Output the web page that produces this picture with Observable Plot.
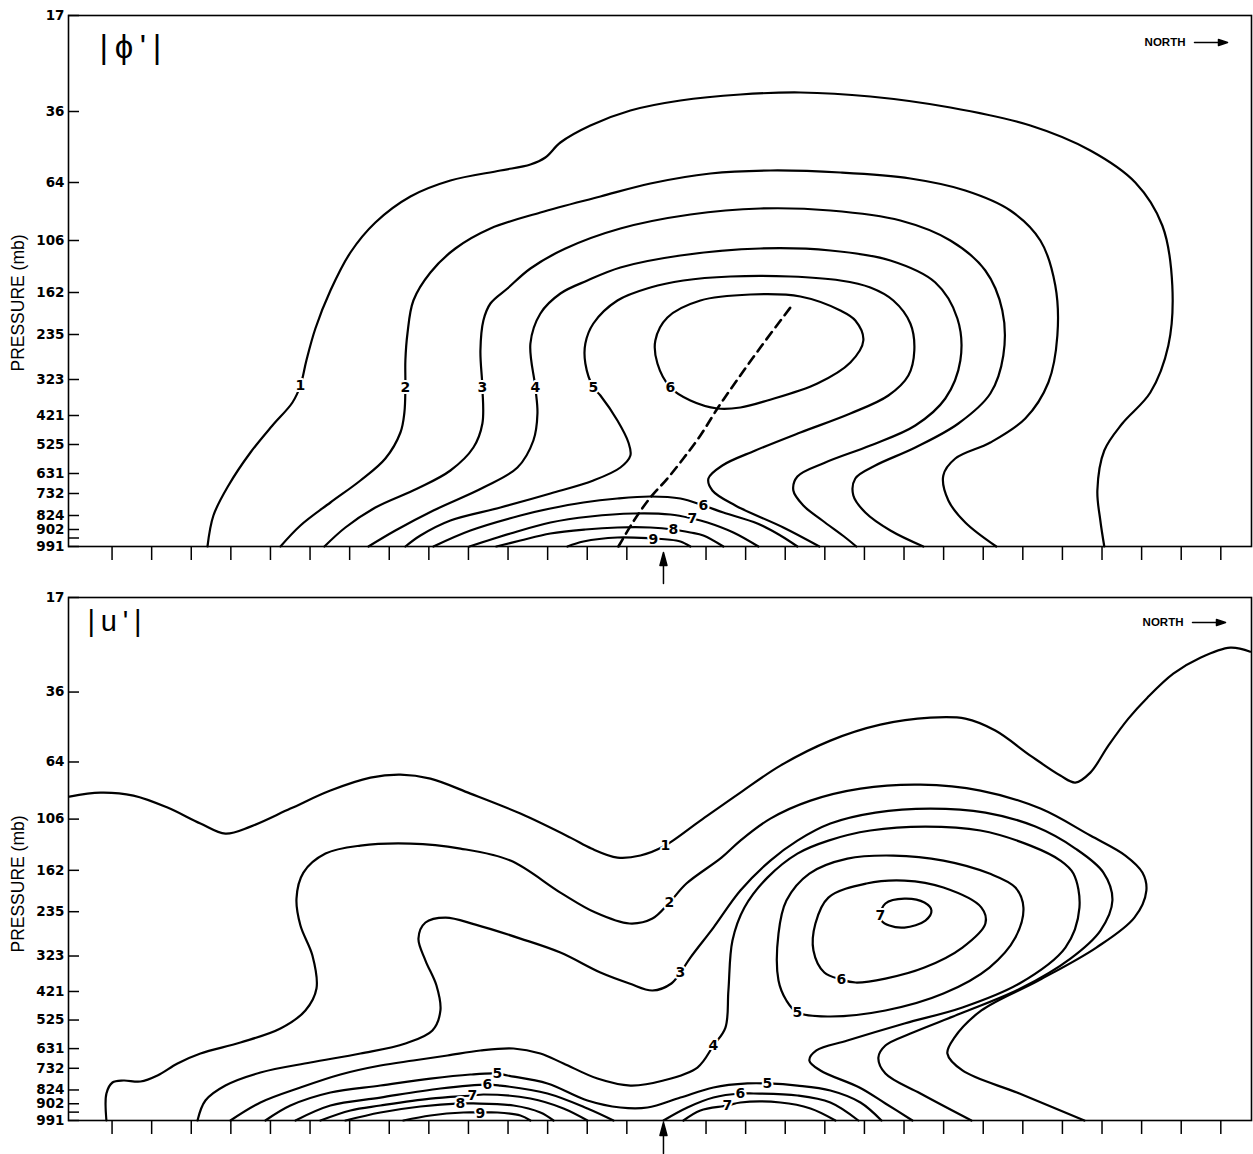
<!DOCTYPE html>
<html>
<head>
<meta charset="utf-8">
<script src="https://cdn.jsdelivr.net/npm/d3@7"></script>
<script src="https://cdn.jsdelivr.net/npm/@observablehq/plot@0.6"></script>
<style>
  body { margin: 0; background: #fff; }
  svg { display: block; }
</style>
</head>
<body>
<div id="chart"></div>
<script>
// ---------------- DATA ----------------
// vertical axis: pressure labels and the height coordinate of each model level
const pressureLabels = [17, 36, 64, 106, 162, 235, 323, 421, 525, 631, 732, 824, 902, 991];
const levelHeights   = [531, 435, 364, 306, 254, 212, 167, 131, 102, 73, 53, 31, 17, 0];
const extraLevelHeights = [8.5];            // unlabeled level tick
// horizontal axis: grid points (distance units), marker at the disturbance centre
const gridTicks = [40, 80, 120, 160, 200, 240, 280, 320, 360, 400, 440, 480, 520, 560,
                   640, 680, 720, 760, 800, 840, 880, 920, 960, 1000, 1040, 1080, 1120, 1160];
const markerPosition = 597;

// ---- |phi'| contours: [distance, height]
const phi1 = [[136.4,0],[142.4,31],[157.6,61],[179.8,94],[202,121],[222.2,144],[230.3,161],[236.3,186],[245.4,218],[260.6,256],[280.8,294],[306,324],[341.4,350],[381.8,366],[432.3,376],[462.6,382],[477.7,389],[492.9,404],[523.2,421],[563.6,436],[614.1,446],[674.7,452],[735.3,454],[806,450],[886.8,439],[967.6,421],[1028.2,396],[1073.6,364],[1100.9,321],[1111,261],[1107,201],[1088.8,154],[1060.5,123],[1042.3,96],[1035.3,56],[1038.3,26],[1042.3,0]];
const phi2 = [[210.1,0],[230.3,21],[260.6,44],[290.9,66],[316.1,88],[331.3,114],[335.3,134],[336.3,159],[336.3,186],[338.4,213],[344.4,246],[361.6,274],[386.8,298],[422.2,318],[472.7,334],[533.3,350],[583.8,363],[644.4,373],[705,376],[775.7,374],[846.4,368],[901.9,356],[947.4,336],[977.7,306],[992.8,261],[994.9,211],[985.8,164],[962.5,128],[927.2,104],[891.8,88],[879.7,71],[884.8,46],[901.9,24],[933.2,0]];
const phi3 = [[254.5,0],[275.7,19],[306,39],[348.5,58],[381.8,76],[405,99],[414.1,123],[414.1,159],[412.1,196],[415.1,226],[422.2,243],[439.4,258],[462.6,278],[498,298],[553.5,318],[624.2,332],[694.9,338],[765.6,336],[836.3,326],[886.8,306],[922.1,276],[939.3,236],[940.3,191],[927.2,153],[894.9,123],[851.4,99],[811,81],[790.8,68],[788.8,51],[800.9,34],[826.2,16],[859.5,0]];
const phi4 = [[299,0],[326.2,16],[364.6,36],[415.1,59],[449.5,79],[465.6,106],[469.7,133],[467.6,159],[462.6,203],[472.7,233],[492.9,253],[520.2,266],[553.5,279],[614.1,291],[694.9,298],[765.6,296],[826.2,286],[871.6,264],[893.9,228],[896.9,186],[881.7,148],[851.4,121],[806,101],[760.5,84],[732.3,70],[728.2,56],[738.3,41],[757.5,26],[780.7,9],[791.8,0]];
const phi5 = [[336.3,0],[351.5,11],[381.8,26],[432.3,39],[482.8,53],[526.2,66],[553.5,79],[563.6,91],[561.6,104],[550.5,126],[533.3,151],[526.2,159],[518.1,183],[518.1,203],[526.2,223],[550.5,246],[583.8,259],[617.1,266],[664.6,270],[725.2,270],[775.7,266],[806,259],[829.2,246],[846.4,223],[850.4,196],[844.4,171],[824.2,151],[785.8,133],[735.3,114],[689.8,96],[656.5,81],[642.4,68],[646.4,56],[669.6,41],[718.1,19],[754.5,0]];
const phi6Upper = [[604,159],[624.2,146],[651.5,138],[674.7,139],[702,146],[752.5,163],[785.8,184],[798.9,206],[790.8,226],[775.7,236],[735.3,250],[684.8,252],[634.3,246],[601,229],[588.8,206],[590.9,183]];
const phi6Lower = [[364.6,0],[402,16],[452.5,31],[482.8,38],[516.1,44],[550.5,48],[583.8,50],[614.1,48],[637.3,41],[657.5,34],[691.9,23],[715.1,11],[732.3,0]];
const phi7 = [[401,0],[442.4,13],[482.8,24],[523.2,30],[566.6,33],[604,32],[626.2,28],[641.4,24],[667.6,14],[692.9,0]];
const phi8 = [[428.2,0],[452.5,6],[482.8,13],[518.1,17],[550.5,19],[583.8,19],[607,17],[624.2,14],[637.3,11],[657.5,0]];
const phi9 = [[500,0],[516.1,5],[550.5,9],[586.8,8],[601,7],[614.1,5],[624.2,0]];
const phiTroughAxis = [[551.5,0],[566.6,25],[583.8,49],[601,68],[617.1,88],[634.3,111],[651.5,138],[669.6,164],[694.9,199],[725.2,239]];
const phiLabels = [[230.3,161,"1"],[336.3,159,"2"],[414.1,159,"3"],[467.6,159,"4"],[526.2,159,"5"],[604,159,"6"],[637.3,41,"6"],[626.2,28,"7"],[607,17,"8"],[586.8,7,"9"]];

// ---- |u'| contours: [distance, height]
const u1 = [[-3,328.9],[28.3,332.9],[61.6,329.9],[96,317.7],[129.3,301.5],[154.5,291.3],[179.8,298.4],[220.2,316.7],[260.6,335],[301,348.1],[331.3,351.2],[361.6,347.1],[402,331.9],[452.5,311.6],[503,287.2],[524.2,276.1],[550.5,266.9],[573.7,269],[597,278.1],[634.3,304.5],[674.7,332.9],[715.1,360.3],[765.6,385.7],[816.1,401.9],[866.6,409],[901.9,408],[932.2,395.9],[967.6,370.5],[997.9,350.2],[1013,343.1],[1028.2,353.2],[1046.4,380.6],[1066.6,408],[1085.8,429.3],[1112,453.7],[1139.3,469.9],[1169.6,480.1],[1189.8,476]];
const u2 = [[34.3,0],[34.3,27.4],[40.4,38.6],[51.5,40.6],[68.7,39.6],[85.9,45.7],[106.1,57.9],[129.3,68],[169.7,79.2],[210.1,93.4],[235.3,111.7],[246.5,134],[242.4,167.5],[230.3,197.9],[226.3,225.3],[233.3,251.7],[255.6,271],[290.9,279.1],[341.4,281.2],[391.9,276.1],[442.4,263.9],[492.9,231.4],[528.3,211.1],[562.6,200],[585.9,205],[603,221.3],[620.2,240.6],[655.6,266.9],[674.7,284.2],[705,306.5],[745.5,324.8],[796,337],[856.6,341],[917.2,335],[977.8,316.7],[1028.2,289.3],[1063.6,269],[1080.8,251.7],[1084.8,233.5],[1072.7,206],[1034.3,175.6],[975.8,142.1],[918.2,111.7],[890.9,84.2],[883.8,68],[899,50.8],[956.6,27.4],[1022.2,0]];
const u3 = [[126.3,0],[134.3,20.3],[154.5,35.5],[189.9,48.7],[240.4,58.9],[290.9,68],[336.4,78.2],[363.6,91.4],[371.7,111.7],[367.7,137],[356.6,162.4],[349.5,184.7],[356.6,201],[376.8,206],[407.1,198.9],[452.5,184.7],[492.9,170.5],[533.3,150.2],[562.6,139.1],[585.9,132],[605,139.1],[614.1,150.2],[624.2,165.4],[647.5,195.9],[674.7,233.5],[705,263.9],[732.3,284.2],[765.6,301.5],[811.1,312.6],[866.6,316.7],[922.2,312.6],[972.7,298.4],[1013.1,276.1],[1041.4,251.7],[1050.5,223.3],[1038.4,192.9],[1008.1,164.4],[957.6,134],[897,108.6],[846.5,88.3],[821.2,76.1],[814.1,63.9],[821.2,47.7],[856.6,27.4],[908.1,0]];
const u4 = [[159.6,0],[189.9,18.3],[230.3,33.5],[270.7,46.7],[311.1,55.8],[344.4,60.9],[378.8,66],[412.1,71.1],[445.5,73.1],[472.7,68],[496,57.9],[530.3,42.6],[563.6,35.5],[597,40.6],[631.3,53.8],[647.5,76.1],[659.6,94.4],[662.6,132],[666.7,182.7],[678.8,216.2],[702,246.6],[732.3,271],[763.6,284.2],[806,294.4],[861.6,298.4],[917.2,294.4],[967.7,279.1],[998,263.9],[1011.1,250.7],[1017.2,216.2],[1003,175.6],[956.6,139.1],[899,114.7],[840.4,98.5],[782.8,81.2],[751.5,71.1],[744.4,60.9],[755.5,50.8],[795,33.5],[821.2,17.3],[848.5,0]];
const u5Upper = [[732.3,109.6],[763.6,105.6],[821.2,111.7],[879.8,128.9],[926.3,155.3],[952.5,185.7],[960.6,216.2],[952.5,236.5],[926.3,250.7],[879.8,263.9],[829.3,269],[782.8,265.9],[744.4,250.7],[721.2,223.3],[713.2,189.8],[713.2,142.1],[721.2,121.8]];
const u5Lower = [[194.9,0],[220.2,15.2],[260.6,28.4],[311.1,35.5],[361.6,42.6],[402,46.7],[429.3,47.7],[439.4,45.7],[479.8,37.6],[520.2,20.3],[553.5,13.2],[580.8,13.2],[614.1,23.3],[647.5,33.5],[681.8,37.6],[702,37.6],[732.3,35.5],[765.6,30.5],[796,18.3],[817.2,0]];
const u6Upper = [[776.8,143.1],[791,140.1],[821.2,144.1],[860.6,155.3],[899,175.6],[922.2,200],[918.2,216.2],[879.8,236.5],[840.4,243.6],[802,240.6],[763.6,226.3],[750.5,200],[748.5,172.6],[759.5,150.2]];
const u7Upper = [[816.1,208.1],[821.2,220.3],[840.4,225.3],[860.6,221.3],[867.7,213.2],[861.6,203],[840.4,195.9],[825.2,197.9],[817.2,203]];
const u6West = [[225.3,0],[260.6,15.2],[311.1,23.3],[371.7,32.5],[419.2,36.5],[432.3,35.5],[479.8,27.4],[520.2,12.2],[546.5,0]];
const u7West = [[250.5,0],[280.8,10.2],[311.1,15.2],[361.6,22.3],[404,25.4],[415.1,26.4],[462.6,22.3],[496,12.2],[520.2,0]];
const u8West = [[275.8,0],[311.1,8.1],[351.5,14.2],[391.9,17.3],[405,17.3],[445.5,15.2],[472.7,8.1],[485.9,0]];
const u9West = [[334.3,0],[361.6,5.1],[394.9,8.1],[412.1,8.1],[429.3,8.1],[452.5,5.1],[462.6,0]];
const u6East = [[597,0],[621.2,13.2],[647.5,23.3],[674.7,27.4],[687.9,27.4],[732.3,25.4],[765.6,18.3],[793.9,0]];
const u7East = [[617.2,0],[634.3,10.2],[661.6,15.2],[674.7,18.3],[715.1,18.3],[745.5,12.2],[770.7,0]];
const uLabels = [[599,279.1,"1"],[603,221.3,"2"],[614.1,150.2,"3"],[647.5,76.1,"4"],[732.3,109.6,"5"],[776.8,143.1,"6"],[816.1,208.1,"7"],[429.3,47.7,"5"],[419.2,36.5,"6"],[404,25.4,"7"],[391.9,17.3,"8"],[412.1,7.1,"9"],[702,37.6,"5"],[674.7,27.4,"6"],[661.6,15.2,"7"]];

// ---------------- DRAWING ----------------
const labelOf = new Map(levelHeights.map((h, i) => [h, String(pressureLabels[i])]));
const FONT = "'Liberation Sans', Arial, sans-serif";
const DIGITS = "'DejaVu Sans', 'Liberation Sans', sans-serif";

const markerArrow = {draw(ctx, l) {
  ctx.moveTo(0, 0); ctx.lineTo(0, -l + 10);
  ctx.moveTo(-3.5, -l + 13); ctx.lineTo(0, -l); ctx.lineTo(3.5, -l + 13); ctx.closePath();
}};
const northArrow = {draw(ctx, l) {
  ctx.moveTo(0, 0); ctx.lineTo(0, -l + 6);
  ctx.moveTo(-3, -l + 9); ctx.lineTo(0, -l); ctx.lineTo(3, -l + 9); ctx.closePath();
}};

function toRows(list) {
  const rows = [];
  list.forEach((pts, i) => pts.forEach(([x, y]) => rows.push({x, y, id: i})));
  return rows;
}

function panel(cfg) {
  const marks = [
    Plot.line(toRows(cfg.open), {x: "x", y: "y", z: "id", curve: "catmull-rom", stroke: "black", strokeWidth: 2.2}),
    Plot.line(toRows(cfg.closed), {x: "x", y: "y", z: "id", curve: "catmull-rom-closed", stroke: "black", strokeWidth: 2.2})
  ];
  if (cfg.dashed) marks.push(Plot.line(cfg.dashed, {x: d => d[0], y: d => d[1], curve: "catmull-rom", stroke: "black", strokeWidth: 2.6, strokeDasharray: "9,6"}));
  marks.push(
    Plot.text(cfg.labels, {x: d => d[0], y: d => d[1], text: d => d[2], fontFamily: DIGITS, fontSize: 14, fontWeight: "bold", fill: "black", stroke: "white", strokeWidth: 4}),
    Plot.frame({stroke: "black", strokeWidth: 1.6}),
    Plot.axisY([...levelHeights, ...extraLevelHeights], {tickSize: 11, dx: 11, fill: "none", stroke: "black", strokeWidth: 1.5, label: null}),
    Plot.axisY(levelHeights, {tickSize: 0, tickPadding: 4, stroke: "none", fill: "black", tickFormat: d => labelOf.get(d), label: null, fontFamily: DIGITS, fontSize: 13.5, fontWeight: "bold"}),
    Plot.axisX(gridTicks, {tickSize: 14, fill: "none", stroke: "black", strokeWidth: 1.5, label: null}),
    Plot.vector([markerPosition], {x: d => d, y: () => cfg.markerTip, length: 31, anchor: "end", shape: markerArrow, stroke: "black", fill: "black", strokeWidth: 1.5}),
    Plot.text(["PRESSURE (mb)"], {text: d => d, frameAnchor: "left", textAnchor: "middle", lineAnchor: "middle", dx: -50, dy: cfg.ylabelDy, rotate: -90, fontSize: 17.5, fill: "black"}),
    Plot.text([cfg.title], {text: d => d, frameAnchor: "top-left", dx: cfg.titleDx, dy: cfg.titleDy, textAnchor: "start", lineAnchor: "top", fontSize: cfg.titleSize, fill: "black"}),
    Plot.text(["NORTH"], {text: d => d, frameAnchor: "top-right", dx: cfg.northDx, dy: cfg.northDy, textAnchor: "end", lineAnchor: "middle", fontSize: 11.5, fontWeight: "bold", fill: "black"}),
    Plot.vector([0], {frameAnchor: "top-right", dx: cfg.northDx + 42, dy: cfg.northDy, length: 33, rotate: 90, anchor: "end", shape: northArrow, stroke: "black", fill: "black", strokeWidth: 1.5})
  );
  return Plot.plot({
    width: 1253,
    height: cfg.height,
    marginLeft: 68,
    marginRight: 2,
    marginTop: cfg.marginTop,
    marginBottom: cfg.marginBottom,
    x: {domain: [-4, 1191]},
    y: {domain: [0, 531]},
    style: {background: "white", color: "black", fontFamily: FONT, overflow: "visible"},
    marks
  });
}

const phiPanel = panel({
  open: [phi1, phi2, phi3, phi4, phi5, phi6Lower, phi7, phi8, phi9],
  closed: [phi6Upper],
  dashed: phiTroughAxis,
  labels: phiLabels,
  title: "|\u2009ϕ\u2009'\u2009|", titleDx: 31, titleDy: 19, titleSize: 33,
  northDx: -66, northDy: 27,
  ylabelDy: 22, markerTip: -6,
  height: 590, marginTop: 15, marginBottom: 44
});
const uPanel = panel({
  open: [u1, u2, u3, u4, u5Lower, u6West, u7West, u8West, u9West, u6East, u7East],
  closed: [u5Upper, u6Upper, u7Upper],
  dashed: null,
  labels: uLabels,
  title: "|\u2009u\u2009'\u2009|", titleDx: 19, titleDy: 13, titleSize: 29,
  northDx: -68, northDy: 25,
  ylabelDy: 25, markerTip: -2,
  height: 564, marginTop: 7, marginBottom: 34
});
document.getElementById("chart").append(phiPanel, uPanel);
</script>
</body>
</html>
